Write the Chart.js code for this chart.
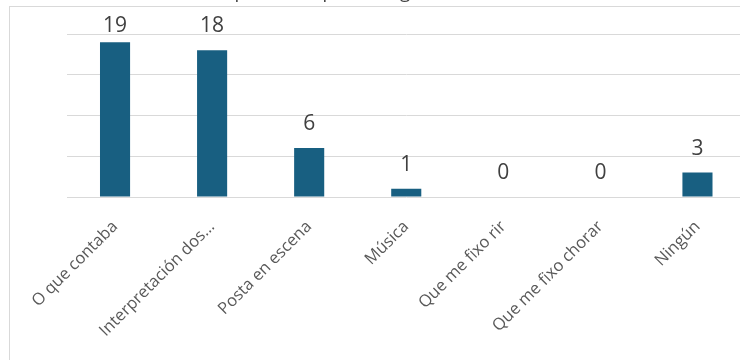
<!DOCTYPE html>
<html>
<head>
<meta charset="utf-8">
<script src="https://cdn.jsdelivr.net/npm/chart.js@4/dist/chart.umd.min.js"></script>
<style>
  html, body { margin: 0; padding: 0; background: #ffffff; overflow: hidden; width: 740px; height: 360px; }
  #wrap { position: absolute; left: 0; top: -19px; width: 746px; height: 379px; }
  #frame { position: absolute; left: 9px; top: 6px; width: 800px; height: 400px; border: 1px solid #d9d9d9; pointer-events: none; }
</style>
</head>
<body>
<div id="wrap"><canvas id="c"></canvas></div>
<div id="frame"></div>
<script>
const titleText = "Aspecto do que máis gustou da obra";
const categories = ["O que contaba", "Interpretación dos...", "Posta en escena", "Música", "Que me fixo rir", "Que me fixo chorar", "Ningún"];
const counts = [19, 18, 6, 1, 0, 0, 3];
const yTicks = [0, 5, 10, 15, 20];

const FONT = "'Open Sans', 'Liberation Sans', sans-serif";

const valueLabels = {
  id: 'valueLabels',
  afterDatasetsDraw(chart) {
    const ctx = chart.ctx;
    const yScale = chart.scales.y;
    const meta = chart.getDatasetMeta(0);
    ctx.save();
    ctx.font = "21px " + FONT;
    ctx.fillStyle = "#404040";
    ctx.textAlign = "center";
    ctx.textBaseline = "middle";
    meta.data.forEach((el, i) => {
      const y = Math.max(el.y - 24, yScale.top - 8);
      ctx.fillText(String(counts[i]), el.x, y);
    });
    ctx.restore();
  }
};

new Chart(document.getElementById('c'), {
  type: 'bar',
  data: {
    labels: categories,
    datasets: [{
      data: counts,
      backgroundColor: '#185f81',
      borderWidth: 0,
      barPercentage: 0.31,
      categoryPercentage: 1.0
    }]
  },
  options: {
    responsive: true,
    maintainAspectRatio: false,
    animation: false,
    layout: { padding: 0 },
    plugins: {
      legend: { display: false },
      tooltip: { enabled: false },
      title: {
        display: true,
        text: titleText,
        color: '#404040',
        font: { family: FONT, size: 18.7, weight: 'normal', lineHeight: 1.2 },
        padding: { top: 0, bottom: 30.6 }
      }
    },
    scales: {
      x: {
        grid: { display: false },
        border: { display: false },
        ticks: {
          color: '#595959',
          font: { family: FONT, size: 16.5 },
          minRotation: 45,
          maxRotation: 45,
          autoSkip: false,
          padding: 12
        },
        afterFit(scale) { scale.height = 163; }
      },
      y: {
        min: 0,
        max: 20,
        afterBuildTicks(scale) { scale.ticks = yTicks.map(v => ({ value: v })); },
        grid: { color: '#d9d9d9', lineWidth: 1, drawTicks: false },
        border: { display: false },
        ticks: { display: false },
        afterFit(scale) { scale.width = 66.5; }
      }
    }
  },
  plugins: [valueLabels]
});
</script>
</body>
</html>
